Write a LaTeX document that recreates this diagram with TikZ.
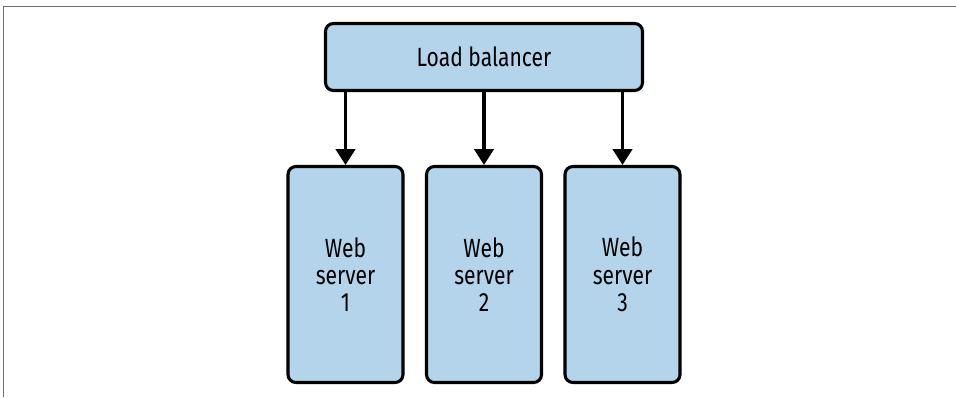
\documentclass[tikz,border=0pt]{standalone}
\usepackage{fontspec}
\setmainfont{Fira Sans}[FakeStretch=0.8]
\usetikzlibrary{arrows.meta}
\definecolor{boxblue}{RGB}{179,212,234}
\definecolor{framegray}{RGB}{110,110,110}

\begin{document}
\begin{tikzpicture}[every node/.style={font=\fontsize{15}{15.5}\selectfont},
		unit/.style={draw, line width=1.75pt, fill=boxblue, rounded corners=4.5pt, align=center, inner sep=0pt},
		arr/.style={line width=1.75pt, -{Triangle[width=11pt,length=9pt]}}]
		\useasboundingbox (0,0) rectangle (19.12,-7.94);
		\draw[framegray, line width=0.8pt] (0.07,-7.94) -- (0.07,-0.13) -- (19.12,-0.13);
		\node[unit, minimum width=6.34cm, minimum height=1.34cm] (lb) at (9.68,-1.14) {Load balancer};
		\foreach \i/\x in {1/6.91, 2/9.68, 3/12.45} {
			\node[unit, minimum width=2.3cm, minimum height=4.32cm] (ws\i) at (\x,-5.49) {Web\\server\\\i};
			\draw[arr] (lb.south -| ws\i.north) -- (ws\i.north);
		}
	\end{tikzpicture}
\end{document}
